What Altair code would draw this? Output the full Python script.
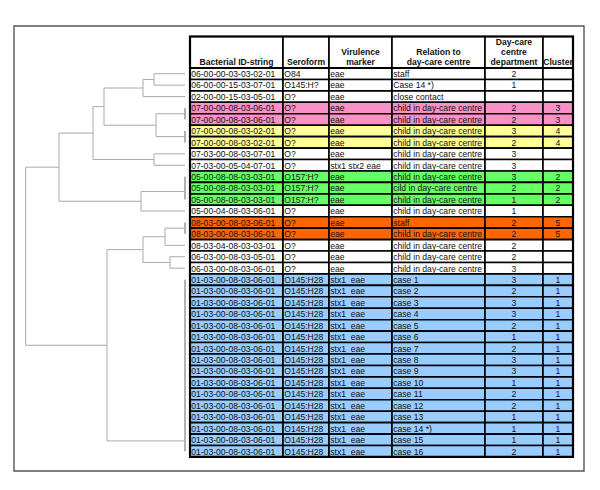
import altair as alt
import pandas as pd

# ---------------- data ----------------
ids = ["06-00-00-03-03-02-01", "06-00-00-15-03-07-01", "02-00-00-15-03-05-01",
       "07-00-00-08-03-06-01", "07-00-00-08-03-06-01", "07-00-00-08-03-02-01",
       "07-00-00-08-03-02-01", "07-03-00-08-03-07-01", "07-03-00-05-04-07-01",
       "05-00-08-08-03-03-01", "05-00-08-08-03-03-01", "05-00-08-08-03-03-01",
       "05-00-04-08-03-06-01", "08-03-00-08-03-06-01", "08-03-00-08-03-06-01",
       "08-03-04-08-03-03-01", "06-03-00-08-03-05-01", "06-03-00-08-03-06-01"] + \
      ["01-03-00-08-03-06-01"] * 16
seroform = ["O84", "O145:H?", "O?", "O?", "O?", "O?", "O?", "O?", "O?",
            "O157:H?", "O157:H?", "O157:H?", "O?", "O?", "O?", "O?", "O?", "O?"] + \
           ["O145:H28"] * 16
virulence = ["eae"] * 8 + ["stx1 stx2 eae"] + ["eae"] * 9 + ["stx1\u00a0\u00a0eae"] * 16
relation = ["staff", "Case 14 *)", "close contact"] + ["child in day-care centre"] * 7 + \
           ["cild in day-care centre", "child in day-care centre", "child in day-care centre",
            "staff", "child in day-care centre", "child in day-care centre",
            "child in day-care centre", "child in day-care centre"] + \
           ["case %d" % i if i != 14 else "case 14 *)" for i in range(1, 17)]
department = ["2", "1", "", "2", "2", "3", "2", "3", "3", "3", "2", "1", "1", "2", "2", "2", "2", "3",
              "3", "2", "3", "3", "2", "1", "2", "3", "3", "1", "2", "2", "1", "1", "1", "2"]
cluster = ["", "", "", "3", "3", "4", "4", "", "", "2", "2", "2", "", "5", "5", "", "", ""] + ["1"] * 16

headers = [["Bacterial ID-string"], ["Seroform"], ["Virulence", "marker"],
           ["Relation to", "day-care centre"], ["Day-care", "centre", "department"], ["Cluster"]]

cluster_domain = ["", "1", "2", "3", "4", "5", "header"]
cluster_colors = ["#ffffff", "#99ccff", "#66ff66", "#f990c6", "#ffff99", "#ff6600", "#ffffff"]

# dendrogram: identical-profile leaf groups and merges (distance in tree units)
leaf_groups = {"pink": [3, 4], "yellow": [5, 6], "green": [9, 10, 11],
               "orange": [13, 14], "blue": list(range(18, 34))}
group_attach = {"green": 10.3, "blue": 32.1}
merges = [
    ("n1", "r0", "r1", 31), ("n2", "n1", "r2", 42), ("n3", "pink", "yellow", 29),
    ("n4", "n2", "n3", 81), ("n5", "r7", "r8", 31), ("n6", "n4", "n5", 92),
    ("n7", "green", "r12", 44), ("n8", "n6", "n7", 126), ("n9", "orange", "r15", 20),
    ("n10", "r16", "r17", 15), ("n11", "n9", "n10", 42), ("n12", "n11", "blue", 78),
    ("root", "n8", "n12", 159.3),
]

# ---------------- layout ----------------
ROW_TOP, ROW_H = 68.0, 11.44
HEAD_TOP = 36.5
COL_EDGES = [190, 283, 329, 392, 485, 543, 573]
LEAF_X = 185.0
FONT = "Liberation Sans"


def ry(r):
    return ROW_TOP + (r + 0.5) * ROW_H


n_rows = len(ids)
cols = [ids, seroform, virulence, relation, department, cluster]

cells, texts_l, texts_c = [], [], []
for i in range(n_rows):
    for j, col in enumerate(cols):
        cells.append(dict(x0=COL_EDGES[j], x1=COL_EDGES[j + 1],
                          y0=ROW_TOP + i * ROW_H, y1=ROW_TOP + (i + 1) * ROW_H, cl=cluster[i]))
        if j < 4:
            texts_l.append(dict(x=COL_EDGES[j] + 1.2, y=ry(i) + 0.3, t=col[i]))
        else:
            texts_c.append(dict(x=(COL_EDGES[j] + COL_EDGES[j + 1]) / 2, y=ry(i) + 0.3, t=col[i]))
head_txt = []
for j, lines in enumerate(headers):
    cells.append(dict(x0=COL_EDGES[j], x1=COL_EDGES[j + 1], y0=HEAD_TOP, y1=ROW_TOP, cl="header"))
    for k, ln in enumerate(lines):
        head_txt.append(dict(x=(COL_EDGES[j] + COL_EDGES[j + 1]) / 2,
                             y=62.0 - (len(lines) - 1 - k) * 9.8, t=ln))

# dendrogram segments
pos = {}
segs = []
for i in range(n_rows):
    pos["r%d" % i] = (ry(i), 0.0)
for g, rows in leaf_groups.items():
    yv = ry(group_attach.get(g, sum(rows) / len(rows)))
    pos[g] = (yv, 0.0)
    segs.append(dict(x0=LEAF_X, x1=LEAF_X, y0=ry(rows[0]), y1=ry(rows[-1]), k="group"))
for name, a, b, h in merges:
    ya, ha = pos[a]
    yb, hb = pos[b]
    xn = LEAF_X - h
    segs.append(dict(x0=xn, x1=xn, y0=ya, y1=yb, k="tree"))
    segs.append(dict(x0=xn, x1=LEAF_X - ha, y0=ya, y1=ya, k="tree"))
    segs.append(dict(x0=xn, x1=LEAF_X - hb, y0=yb, y1=yb, k="tree"))
    pos[name] = ((ya + yb) / 2, h)

frame = pd.DataFrame([dict(x0=14, x1=584, y0=26, y1=471)])
outer = pd.DataFrame([dict(x0=COL_EDGES[0], x1=COL_EDGES[-1], y0=HEAD_TOP, y1=ROW_TOP + n_rows * ROW_H)])
hline = pd.DataFrame([dict(x0=COL_EDGES[0], x1=COL_EDGES[-1], y0=ROW_TOP, y1=ROW_TOP)])

W, H = 580, 470
xs = alt.Scale(domain=[8, 8 + W])
ys = alt.Scale(domain=[8, 8 + H], reverse=True)


def X(f):
    return alt.X(f + ":Q", scale=xs, axis=None)


def Y(f):
    return alt.Y(f + ":Q", scale=ys, axis=None)


frame_l = alt.Chart(frame).mark_rect(fill="white", stroke="#555555", strokeWidth=1.4).encode(
    x=X("x0"), x2="x1:Q", y=Y("y0"), y2="y1:Q")

tree_l = alt.Chart(pd.DataFrame(segs)).mark_rule(strokeWidth=1).encode(
    x=X("x0"), x2="x1:Q", y=Y("y0"), y2="y1:Q",
    color=alt.Color("k:N", scale=alt.Scale(domain=["tree", "group"], range=["#aaaaaa", "#666666"]),
                    legend=None))

cell_l = alt.Chart(pd.DataFrame(cells)).mark_rect(stroke="black", strokeWidth=1.6).encode(
    x=X("x0"), x2="x1:Q", y=Y("y0"), y2="y1:Q",
    fill=alt.Fill("cl:N", scale=alt.Scale(domain=cluster_domain, range=cluster_colors), legend=None))

outer_l = alt.Chart(outer).mark_rect(fill=None, stroke="black", strokeWidth=2.2).encode(
    x=X("x0"), x2="x1:Q", y=Y("y0"), y2="y1:Q")
hline_l = alt.Chart(hline).mark_rule(stroke="black", strokeWidth=2).encode(
    x=X("x0"), x2="x1:Q", y=Y("y0"))

txt_style = dict(baseline="middle", font=FONT, fontSize=8.6, color="#111111")
tl = alt.Chart(pd.DataFrame(texts_l)).mark_text(align="left", **txt_style).encode(
    x=X("x"), y=Y("y"), text="t:N")
tc = alt.Chart(pd.DataFrame(texts_c)).mark_text(align="center", **txt_style).encode(
    x=X("x"), y=Y("y"), text="t:N")
th = alt.Chart(pd.DataFrame(head_txt)).mark_text(align="center", baseline="middle", font=FONT,
                                                 fontSize=8.6, fontWeight="bold", color="#111111").encode(
    x=X("x"), y=Y("y"), text="t:N")

chart = alt.layer(frame_l, tree_l, cell_l, outer_l, hline_l, tl, tc, th).properties(
    width=W, height=H, padding=0, autosize=alt.AutoSizeParams(type="none"),
    background="white"
).configure_view(stroke=None)

chart.save("out.html", embed_options={"renderer": "svg", "actions": False})
